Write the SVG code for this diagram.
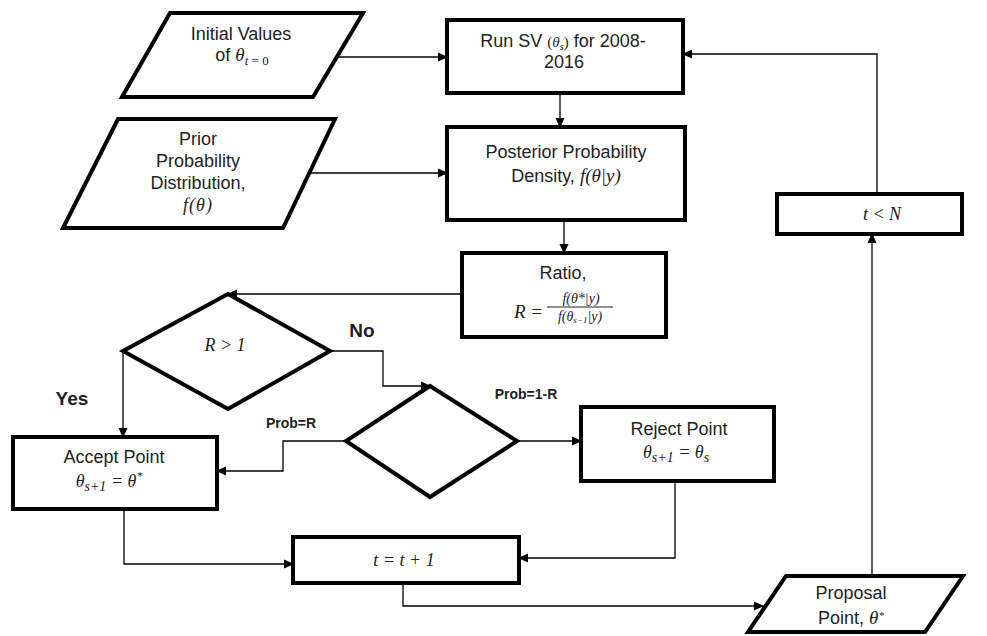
<svg xmlns="http://www.w3.org/2000/svg" width="987" height="636" viewBox="0 0 987 636">
<defs>
<marker id="arr" markerUnits="userSpaceOnUse" markerWidth="10" markerHeight="10" refX="9" refY="5" orient="auto">
<path d="M0,0.5 L10,5 L0,9.5 z" fill="#000"/>
</marker>
<style>
.shape{fill:#fff;stroke:#000;stroke-width:4;stroke-linejoin:miter}
.conn{fill:none;stroke:#000;stroke-width:1.3;marker-end:url(#arr)}
.t{font-family:"Liberation Sans",Arial,sans-serif;font-size:18px;fill:#222;text-anchor:middle}
.m{font-family:"Liberation Serif","Times New Roman",serif;font-style:italic}
.lbl{font-family:"Liberation Sans",Arial,sans-serif;font-weight:bold;fill:#222;text-anchor:middle}
</style>
</defs>
<rect width="987" height="636" fill="#fff"/>

<g id="connectors">
<path class="conn" d="M338,57 L447,57"/>
<path class="conn" d="M309,173 L447,173"/>
<path class="conn" d="M560,93 L560,127"/>
<path class="conn" d="M564,220 L564,253"/>
<path class="conn" d="M462,294 L228,294"/>
<path class="conn" d="M123,351 L123,437"/>
<path class="conn" d="M330,351 L383,351 L383,386 L430,386"/>
<path class="conn" d="M346,441 L283,441 L283,471 L217,471"/>
<path class="conn" d="M517,441 L581,441"/>
<path class="conn" d="M124,509 L124,564 L293,564"/>
<path class="conn" d="M675,481 L675,558 L519,558"/>
<path class="conn" d="M403,583 L403,606 L763,606"/>
<path class="conn" d="M872,576 L872,234"/>
<path class="conn" d="M877,194 L877,54 L683,54"/>
</g>

<g id="initial">
<polygon class="shape" points="170,13 363,13 313,97 122,97"/>
<text class="t" x="241" y="40">Initial Values</text>
<text class="t" x="242" y="61">of <tspan class="m" font-size="19">θ</tspan><tspan class="m" font-size="13" dy="4">t</tspan><tspan font-size="13" font-family="Liberation Serif"> = 0</tspan></text>
</g>

<g id="prior">
<polygon class="shape" points="118,119 335,119 283,228 63,228"/>
<text class="t" x="198" y="145">Prior</text>
<text class="t" x="198" y="167">Probability</text>
<text class="t" x="198" y="189">Distribution,</text>
<text class="t m" x="198" y="211" font-size="19" letter-spacing="1">f(θ)</text>
</g>

<g id="runsv">
<rect class="shape" x="447" y="20" width="236" height="73"/>
<text class="t" x="563" y="47">Run SV <tspan font-family="Liberation Serif" font-size="15">(</tspan><tspan class="m" font-size="15">θ</tspan><tspan class="m" font-size="10" dy="3">s</tspan><tspan font-family="Liberation Serif" font-size="15" dy="-3">)</tspan> for 2008-</text>
<text class="t" x="564" y="68">2016</text>
</g>

<g id="posterior">
<rect class="shape" x="447" y="127" width="238" height="93"/>
<text class="t" x="566" y="158">Posterior Probability</text>
<text class="t" x="566" y="182">Density, <tspan class="m" font-size="19">f(θ|y)</tspan></text>
</g>

<g id="ratio">
<rect class="shape" x="462" y="253" width="204" height="84"/>
<text class="t" x="563" y="279">Ratio,</text>
<text class="m" x="514" y="318" font-size="19" fill="#222">R =</text>
<line x1="547" y1="307" x2="613" y2="307" stroke="#222" stroke-width="1"/>
<text class="m" x="581" y="303" font-size="14" fill="#222" text-anchor="middle">f(θ*|y)</text>
<text class="m" x="580" y="321" font-size="14" fill="#222" text-anchor="middle">f(θ<tspan font-size="9" dy="2">s−1</tspan><tspan dy="-2">|y)</tspan></text>
</g>

<g id="decision1">
<polygon class="shape" points="228,294 330,351 228,409 123,351"/>
<text class="t m" x="225" y="351" font-size="20">R &gt; 1</text>
<text class="lbl" x="362" y="337" font-size="19">No</text>
<text class="lbl" x="72" y="405" font-size="19">Yes</text>
</g>

<g id="decision2">
<polygon class="shape" points="430,386 517,441 430,497 346,441"/>
<text class="lbl" x="526" y="399" font-size="14">Prob=1-R</text>
<text class="lbl" x="291" y="428" font-size="14">Prob=R</text>
</g>

<g id="accept">
<rect class="shape" x="13" y="437" width="204" height="72"/>
<text class="t" x="114" y="463">Accept Point</text>
<text class="t m" x="109" y="487" font-size="20">θ<tspan font-size="14" dy="4">s+1</tspan><tspan dy="-4"> = θ</tspan><tspan font-size="12" dy="-7">*</tspan></text>
</g>

<g id="reject">
<rect class="shape" x="581" y="407" width="193" height="74"/>
<text class="t" x="679" y="435">Reject Point</text>
<text class="t m" x="676" y="458" font-size="20">θ<tspan font-size="14" dy="4">s+1</tspan><tspan dy="-4"> = θ</tspan><tspan font-size="14" dy="4">s</tspan></text>
</g>

<g id="increment">
<rect class="shape" x="293" y="537" width="226" height="46"/>
<text class="t m" x="404" y="566" font-size="20">t = t + 1</text>
</g>

<g id="tlessn">
<rect class="shape" x="777" y="194" width="185" height="40"/>
<text class="t m" x="882" y="220" font-size="20">t &lt; N</text>
</g>

<g id="proposal">
<polygon class="shape" points="786,576 963,576 925,632 748,632"/>
<text class="t" x="851" y="599">Proposal</text>
<text class="t" x="851" y="624">Point, <tspan class="m" font-size="19">θ</tspan><tspan class="m" font-size="11" dy="-5">*</tspan></text>
</g>
</svg>
